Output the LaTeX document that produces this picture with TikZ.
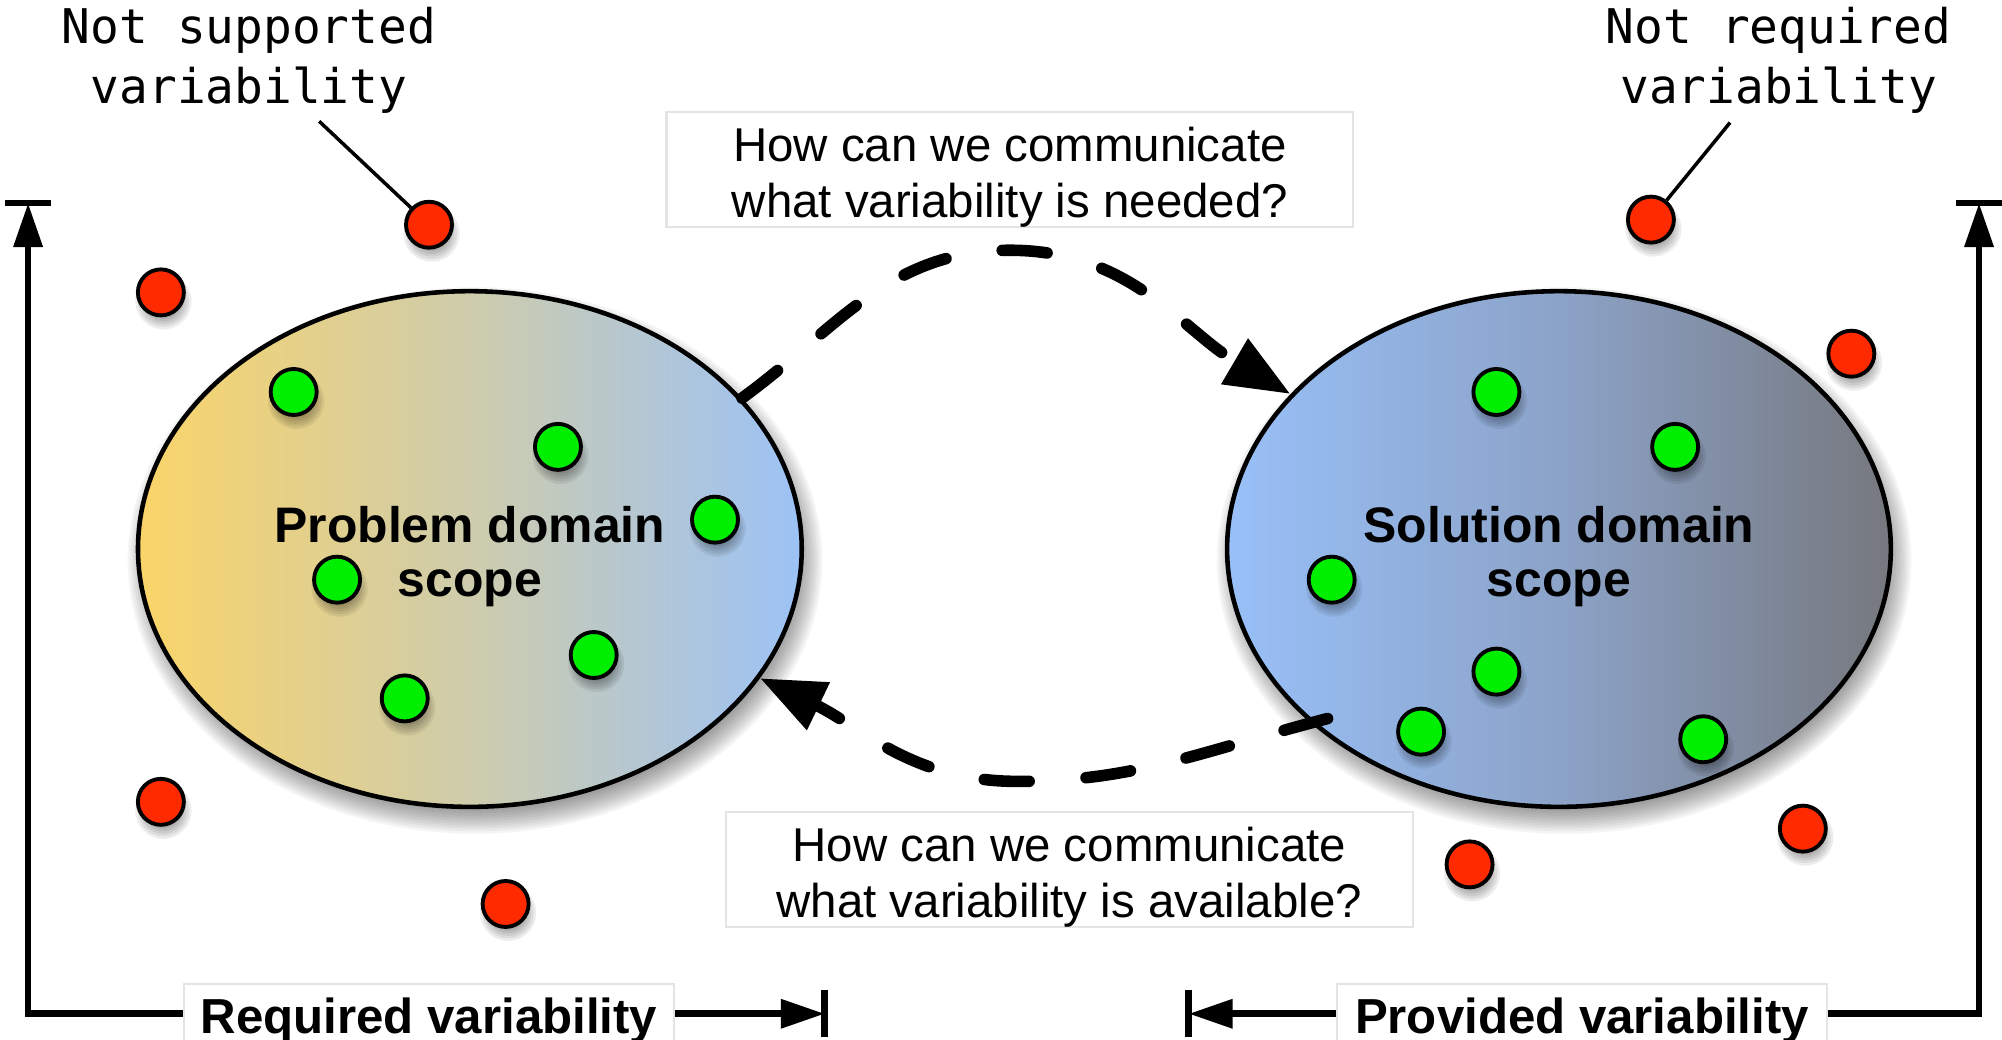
\documentclass[tikz,border=0pt]{standalone}
\usepackage{fontspec}
\setmainfont{Liberation Sans}
\newfontfamily\callfont{DejaVu Sans Mono}
\usetikzlibrary{shapes.geometric,arrows.meta,calc}
\definecolor{dotred}{RGB}{255,42,0}
\definecolor{dotgreen}{RGB}{0,238,0}
\definecolor{lyel}{RGB}{250,212,104}
\definecolor{lmid}{RGB}{206,204,172}
\definecolor{lblue}{RGB}{156,194,246}
\definecolor{rblue}{RGB}{152,192,248}
\definecolor{rmid}{RGB}{140,163,200}
\definecolor{rgray}{RGB}{118,120,126}
\definecolor{boxline}{RGB}{228,228,228}
\begin{document}
\begin{tikzpicture}[x=0.012768cm,y=-0.012768cm,
  scopeshape/.style={ellipse,draw=black,line width=1.3pt,inner sep=0pt,
     minimum width=6.639cm,minimum height=5.158cm,align=center,
     font=\bfseries\fontsize{14.2}{15.2}\selectfont},
  dotbase/.style={circle,draw=black,line width=1.1pt,inner sep=0pt,minimum size=0.46cm},
  reddot/.style={dotbase,fill=dotred},
  greendot/.style={dotbase,fill=dotgreen},
  qbox/.style={rectangle,draw=boxline,line width=0.6pt,fill=white,inner sep=0pt,
     minimum width=6.87cm,minimum height=1.13cm,align=center,
     font=\fontsize{13.5}{16}\selectfont},
  callout/.style={align=center,font=\callfont\fontsize{13.6}{17}\selectfont},
  varbox/.style={rectangle,draw=boxline,line width=0.6pt,fill=white,inner sep=0pt,
     minimum width=4.9cm,minimum height=0.587cm,text height=11pt,text depth=0pt,
     font=\bfseries\fontsize{14}{16}\selectfont},
  bracket/.style={line width=1.9pt},
  bartip/.style={-{Triangle[length=0.44cm,width=0.28cm]}},
  flow/.style={line width=3.3pt,line cap=round,dash pattern=on 0.45cm off 0.57cm,
     -{Triangle[length=0.65cm,width=0.5cm]}},
]
\useasboundingbox (0,0) rectangle (1568,814);
\fill[white] (0,0) rectangle (1568,814);
\coordinate (cL) at (368,430);
\coordinate (cR) at (1221,430);
% ellipse shadows
\foreach \k in {0,...,11}{
  \fill[black,opacity=0.045] ($(cL)+(4,9)$) ellipse [x radius={272-2*\k}, y radius={214-2*\k}];
  \fill[black,opacity=0.045] ($(cR)+(4,9)$) ellipse [x radius={272-2*\k}, y radius={214-2*\k}];
}
\node[scopeshape,left color=lyel,right color=lblue,middle color=lmid] (L) at (cL)
  {\rule{0pt}{14.6pt}Problem domain\\scope};
\node[scopeshape,left color=rblue,right color=rgray,middle color=rmid] (R) at (cR)
  {\rule{0pt}{14.6pt}Solution domain\\scope};
% dot shadows
\foreach \x/\y in {336/176,126/229,126/628,396/708,1293/172,1450/277,1412/649,1151/677,
  230/307,437/350,560/407,264/454,465/513,317/547,1172/307,1312/350,1043/454,1172/526,1113/573,1334/579}{
  \foreach \k in {0,...,4}{\fill[black,opacity=0.07] (\x+2,\y+7) circle [radius={22-2*\k}];}
}
% red dots
\node[reddot] (r1) at (336,176) {};
\node[reddot] (r2) at (126,229) {};
\node[reddot] (r3) at (126,628) {};
\node[reddot] (r4) at (396,708) {};
\node[reddot] (r5) at (1293,172) {};
\node[reddot] (r6) at (1450,277) {};
\node[reddot] (r7) at (1412,649) {};
\node[reddot] (r8) at (1151,677) {};
% green dots
\node[greendot] (g1) at (230,307) {};
\node[greendot] (g2) at (437,350) {};
\node[greendot] (g3) at (560,407) {};
\node[greendot] (g4) at (264,454) {};
\node[greendot] (g5) at (465,513) {};
\node[greendot] (g6) at (317,547) {};
\node[greendot] (g7) at (1172,307) {};
\node[greendot] (g8) at (1312,350) {};
\node[greendot] (g9) at (1043,454) {};
\node[greendot] (g10) at (1172,526) {};
\node[greendot] (g11) at (1113,573) {};
\node[greendot] (g12) at (1334,579) {};
% callouts
\node[callout] (ns) at (195,47) {Not supported\\variability};
\node[callout] (nr) at (1393,47) {Not required\\variability};
\coordinate (nsp) at (250,95);
\coordinate (nrp) at (1355,96);
\draw[line width=1pt] (nsp) -- (r1);
\draw[line width=1pt] (nrp) -- (r5);
% question boxes
\node[qbox] (q1) at (791,133) {\rule{0pt}{14pt}How can we communicate\\what variability is needed?};
\node[qbox] (q2) at (837.5,681) {\rule{0pt}{14pt}How can we communicate\\what variability is available?};
% flows
\coordinate (ttop) at (791,196);
\draw[flow] (L.29.4) .. controls (655,258) and (696,196) .. (ttop)
  .. controls (886,196) and (926,259) .. (R.150.5);
\coordinate (bbot) at (797,612);
\draw[flow,shorten <=-5pt] (R.215) .. controls (939,589) and (889,612) .. (bbot)
  .. controls (714,612) and (674,569) .. (L.336.5);
% variability brackets
\node[varbox] (req) at (336,794) {Required variability};
\node[varbox] (prov) at (1239,794) {Provided variability};
\coordinate (ltop) at (22,159);
\coordinate (rtop) at (1550,159);
\coordinate (lend) at (646,794);
\coordinate (rend) at (931,794);
\draw[bracket,bartip] (req.west) -| (ltop);
\draw[bracket,bartip] (prov.east) -| (rtop);
\draw[bracket,bartip] (req.east) -- (lend);
\draw[bracket,bartip] (prov.west) -- (rend);
\draw[bracket] (4,159) -- (40,159);
\draw[bracket] (1532,159) -- (1568,159);
\draw[bracket] (646,775) -- (646,812);
\draw[bracket] (931,775) -- (931,812);
\end{tikzpicture}
\end{document}
